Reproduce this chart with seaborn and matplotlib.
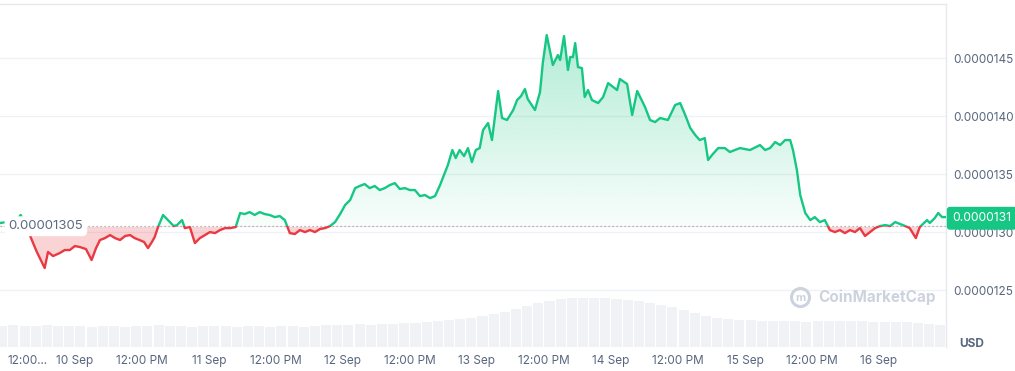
import numpy as np
import pandas as pd
import matplotlib
matplotlib.use("Agg")
import matplotlib.pyplot as plt
import seaborn as sns
from matplotlib.patches import Rectangle
from matplotlib.colors import to_rgb

# ---------------- data ----------------
# hours relative to 10 Sep 00:00
hours = [-13.4, -12.2, -10.9, -9.7, -8.8, -7.7, -6.8, -5.4, -4.8, -3.9, -2.7, -1.8, -0.9,
         0.0, 0.9, 2.0, 3.0, 3.8, 4.5, 5.4, 6.3, 7.2, 8.1, 9.0, 9.9, 10.7, 11.6, 12.4, 13.1,
         13.8, 14.3, 14.9, 15.8, 16.5, 17.0, 17.7, 18.3, 19.2, 19.7, 20.6, 21.5, 22.4, 23.3,
         24.2, 25.1, 26.0, 26.9, 27.8, 28.8, 29.6, 30.4, 31.3, 32.2, 33.1, 34.0, 34.9, 35.8,
         36.7, 37.6, 38.5, 39.4, 40.3, 41.2, 42.1, 43.0, 43.9, 44.8, 45.7, 46.6, 47.5, 48.4,
         49.3, 50.2, 51.0, 51.9, 52.8, 53.7, 54.6, 55.5, 56.4, 57.3, 58.2, 59.1, 60.0, 60.9,
         61.8, 62.7, 63.6, 64.5, 65.4, 66.1, 66.8, 67.6, 68.2, 68.9, 69.7, 70.4, 71.1, 71.8,
         72.5, 73.1, 74.0, 74.7, 75.8, 76.5, 77.4, 78.5, 79.2, 79.9, 80.6, 81.1, 82.4, 83.3,
         83.8, 84.5, 85.6, 86.5, 86.9, 87.6, 88.3, 88.7, 89.2, 89.6, 90.1, 90.8, 91.3, 91.9,
         92.6, 93.7, 94.6, 95.5, 96.4, 97.1, 97.6, 98.9, 99.8, 100.7, 102.1, 103.0, 103.9,
         104.8, 106.2, 107.5, 108.4, 109.3, 110.2, 111.1, 111.9, 112.8, 113.4, 114.1, 115.2,
         116.4, 117.3, 119.1, 120.9, 122.7, 123.6, 124.5, 125.4, 126.3, 127.2, 128.1, 128.6,
         129.3, 129.9, 130.8, 131.7, 132.5, 133.4, 134.3, 135.2, 136.1, 137.0, 137.9, 138.8,
         139.7, 140.6, 141.5, 142.4, 143.3, 144.2, 145.1, 146.0, 146.9, 147.8, 148.7, 149.5,
         150.6, 151.3, 152.6, 153.1, 154.0, 154.6, 155.3, 156.0]
# price in units of 1e-7 USD
price_e7 = [130.78, 130.86, 130.69, 131.47, 130.69, 129.31, 128.28, 126.90, 128.28, 127.93,
            128.19, 128.45, 128.45, 128.79, 128.71, 128.53, 127.59, 128.62, 129.31, 129.48,
            129.74, 129.48, 129.31, 129.66, 129.74, 129.48, 129.31, 129.14, 128.62, 129.14,
            129.57, 130.43, 131.47, 131.12, 130.86, 130.52, 130.60, 131.03, 130.34, 130.43,
            129.05, 129.48, 129.74, 130.00, 129.91, 130.17, 130.34, 130.34, 130.43, 131.64,
            131.55, 131.72, 131.47, 131.72, 131.55, 131.47, 131.29, 131.38, 131.03, 129.91,
            129.83, 130.17, 130.00, 130.17, 130.00, 130.26, 130.34, 130.52, 130.86, 131.55,
            132.33, 132.76, 133.79, 133.97, 134.14, 133.79, 133.97, 133.62, 133.79, 134.05,
            134.22, 133.71, 133.79, 133.62, 133.62, 133.10, 133.19, 132.93, 133.10, 134.05,
            134.91, 135.78, 137.07, 136.38, 137.07, 136.55, 137.24, 136.03, 137.07, 137.24,
            138.79, 139.40, 137.93, 142.16, 139.83, 139.66, 140.52, 141.38, 141.72, 142.33,
            141.47, 140.52, 142.07, 144.57, 146.98, 144.40, 145.26, 144.83, 146.90, 143.97,
            145.09, 145.09, 146.29, 144.22, 144.14, 141.64, 142.24, 141.38, 141.12, 141.64,
            142.84, 142.50, 142.24, 143.19, 142.76, 140.09, 142.16, 140.78, 139.66, 139.48,
            139.83, 139.66, 140.95, 141.12, 140.09, 138.97, 138.36, 137.93, 138.10, 136.21,
            136.64, 137.24, 137.24, 136.90, 137.24, 137.07, 137.50, 137.07, 137.24, 137.76,
            137.50, 137.93, 137.93, 137.07, 135.34, 133.19, 131.64, 131.03, 131.29, 130.86,
            131.03, 130.17, 130.00, 130.17, 129.91, 130.17, 130.00, 130.34, 129.66, 130.00,
            130.34, 130.52, 130.60, 130.52, 130.86, 130.69, 130.52, 130.34, 129.48, 130.43,
            131.03, 130.78, 131.21, 131.64, 131.29, 131.29]

vol_hours = list(range(-13, 156, 2))
volume = [21, 22, 21, 21, 22, 21, 21,
          21, 20, 21, 21, 20, 21,
          21, 22, 21, 21, 20, 21,
          21, 21, 20, 21, 21, 20,
          21, 21, 20, 21, 22, 22,
          22, 23, 22, 23, 23, 24,
          24, 25, 26, 27, 28, 29,
          31, 33, 35, 38, 41, 44,
          46, 48, 49, 49, 49, 49,
          48, 47, 46, 44, 42, 40,
          37, 34, 31, 29, 28, 27,
          27, 26, 26, 26, 26, 25,
          26, 26, 26, 26, 26, 25,
          25, 25, 25, 24, 23, 22]

baseline_e7 = 130.5
baseline_label = "0.00001305"
last_price_label = "0.0000131"
ytick_e7 = [125, 130, 135, 140, 145]
ytick_labels = ["0.0000125", "0.0000130", "0.0000135", "0.0000140", "0.0000145"]
xtick_hours = [-12, 0, 12, 24, 36, 48, 60, 72, 84, 96, 108, 120, 132, 144]
xtick_labels = ["12:00...", "10 Sep", "12:00 PM", "11 Sep", "12:00 PM", "12 Sep", "12:00 PM",
                "13 Sep", "12:00 PM", "14 Sep", "12:00 PM", "15 Sep", "12:00 PM", "16 Sep"]

GREEN = "#16c784"
RED = "#ea3943"
TXT = "#58667e"
GRID = "#eff2f5"

# ---------------- figure ----------------
sns.set_theme(style="white")
plt.rcParams['font.family'] = ['Inter', 'DejaVu Sans']

W, H = 1015, 371
fig = plt.figure(figsize=(W / 100, H / 100), dpi=100)
rect = [0, 1 - 347 / H, 946 / W, 343 / H]
axv = fig.add_axes(rect)
ax = fig.add_axes(rect)
ax.patch.set_alpha(0)

df = pd.DataFrame({"hour": hours, "price": np.array(price_e7) * 1e-7})
base = baseline_e7 * 1e-7
xmin, xmax = -13.4, 156.0
ymin, ymax = 120.09e-7, 149.66e-7

# volume
axv.bar(vol_hours, volume, width=1.8, color="#f1f2f5", linewidth=0)
axv.set_xlim(xmin, xmax)
axv.set_ylim(0, max(volume) * 343 / 49)
axv.axis("off")

# green gradient fill (above baseline)
poly = ax.fill_between(df["hour"], df["price"], base, color="none", linewidth=0)
path = poly.get_paths()[0]
grad = np.linspace(0, 1, 256).reshape(-1, 1)
rgba = np.zeros((256, 1, 4))
rgba[..., :3] = to_rgb(GREEN)
rgba[..., 3] = 0.03 + 0.30 * grad[..., 0].reshape(-1, 1)
im = ax.imshow(rgba, extent=[xmin, xmax, base, df["price"].max()], origin="lower",
               aspect="auto", zorder=1, interpolation="bilinear")
im.set_clip_path(path, transform=ax.transData)

# red fill (below baseline)
red = ax.fill_between(df["hour"], df["price"], base, color=RED, alpha=0.22, linewidth=0, zorder=1)
red.set_clip_path(Rectangle((xmin, ymin), xmax - xmin, base - ymin, transform=ax.transData))

# lines
sns.lineplot(data=df, x="hour", y="price", ax=ax, color=GREEN, lw=1.7, zorder=3)
ln_g = ax.lines[-1]
ln_g.set_clip_path(Rectangle((xmin, base), xmax - xmin, ymax - base, transform=ax.transData))
sns.lineplot(data=df, x="hour", y="price", ax=ax, color=RED, lw=1.7, zorder=3)
ln_r = ax.lines[-1]
ln_r.set_clip_path(Rectangle((xmin, ymin), xmax - xmin, base - ymin, transform=ax.transData))

ax.axhline(base, color="#9aa3b5", lw=0.9, ls=(0, (1, 2.2)), zorder=2)

ax.set_xlim(xmin, xmax)
ax.set_ylim(ymin, ymax)
ax.set_xlabel("")
ax.set_ylabel("")

ax.set_yticks([v * 1e-7 for v in ytick_e7])
ax.set_yticklabels(ytick_labels)
ax.yaxis.tick_right()
ax.grid(axis="y", color=GRID, lw=1)
ax.grid(axis="x", visible=False)
ax.tick_params(axis="y", length=0, pad=5, labelsize=8.5, labelcolor=TXT)

ax.set_xticks(xtick_hours)
ax.set_xticklabels(xtick_labels)
ax.tick_params(axis="x", length=0, pad=5.5, labelsize=8.5, labelcolor=TXT)
ax.get_xticklabels()[0].set_horizontalalignment("left")

for s in ["left", "bottom"]:
    ax.spines[s].set_visible(False)
for s in ["top", "right"]:
    ax.spines[s].set_color("#e6e9ee")
    ax.spines[s].set_linewidth(1)

# baseline label
ax.text(0.009, base, baseline_label, transform=ax.get_yaxis_transform(), ha="left", va="center",
        fontsize=9.5, color="#5d6a80", zorder=5,
        bbox=dict(boxstyle="round,pad=0.3,rounding_size=0.4", fc="white", ec="none"))

# last price tag
ax.annotate(last_price_label, xy=(1, df["price"].iloc[-1] - 0.1e-7),
            xycoords=ax.get_yaxis_transform(), xytext=(4.5, 0), textcoords="offset points",
            ha="left", va="center", fontsize=8.7, color="white", annotation_clip=False, zorder=6,
            bbox=dict(boxstyle="round,pad=0.45,rounding_size=0.25", fc=GREEN, ec="none"))

# USD label
fig.text(959 / W, 1 - 344 / H, "USD", fontsize=8.5, fontweight="bold", color=TXT,
         ha="left", va="center")

# watermark
ax.plot([800 / 946], [(347 - 297) / 343], marker="o", ms=13, mfc="none", mec="#cdd3de",
        mew=2.2, transform=ax.transAxes, clip_on=False, zorder=4)
ax.text(800 / 946, (347 - 298) / 343, "m", transform=ax.transAxes, ha="center", va="center",
        fontsize=8, fontweight="bold", color="#cdd3de", zorder=4)
fig.text(818 / W, 1 - 297 / H, "CoinMarketCap", fontsize=11, fontweight="bold",
         color="#cdd3de", ha="left", va="center")

fig.savefig("out.png", dpi=100)
